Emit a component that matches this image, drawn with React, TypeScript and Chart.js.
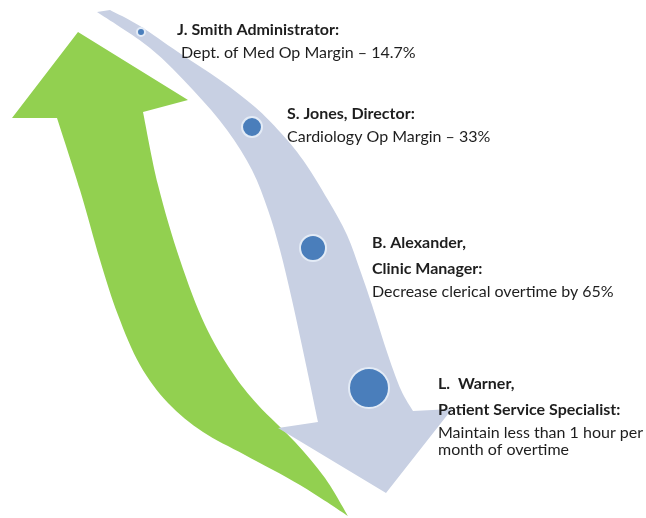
import React, { useEffect, useRef } from "react";
import { Chart, registerables } from "chart.js";

Chart.register(...registerables);

// ---- data ----
const names = ["J. Smith Administrator:", "S. Jones, Director:", "B. Alexander,", "L.  Warner,"];
const roles = ["", "", "Clinic Manager:", "Patient Service Specialist:"];
const goals = [
  ["Dept. of Med Op Margin – 14.7%"],
  ["Cardiology Op Margin – 33%"],
  ["Decrease clerical overtime by 65%"],
  ["Maintain less than 1 hour per", "month of overtime"],
];
const levelX = [141, 252, 313, 369];
const levelY = [32, 127, 248, 388];
const bubbleR = [4, 10, 13, 20];

// ---- layout (shape outlines & label anchors, in axis units) ----
const labelX = [177, 287, 372, 438];
const goalIndent = [4, 0, 0, 0];
const nameBase = [35, 119, 248, 389];
const roleGap = 26;
const goalGap = [23, 23, 23, 23];
const wrapGap = 17;

const greenHead: [number, number][] = [[12, 118], [78, 32], [188, 100]];
const greenRight: [number, number][] = [[143, 112], [158, 185], [180, 260], [205, 325], [232, 372], [258, 405], [295, 442], [325, 478], [348, 516]];
const greenLeft: [number, number][] = [[348, 516], [300, 485], [245, 455], [203, 432], [168, 403], [140, 365], [118, 315], [100, 260], [80, 190], [57, 118]];

const grayLeft: [number, number][] = [[97, 12], [150, 48], [193, 90], [227, 130], [252, 170], [268, 210], [280, 250], [292, 300], [305, 360], [318, 422]];
const grayHead: [number, number][] = [[278, 428], [386, 493], [452, 409]];
const grayRight: [number, number][] = [[413, 411], [401, 390], [388, 355], [372, 305], [360, 270], [347, 235], [328, 200], [303, 160], [280, 132], [255, 107], [220, 80], [178, 52], [140, 26], [110, 10]];

function smooth(ctx: CanvasRenderingContext2D, pts: [number, number][], first: boolean) {
  if (first) ctx.moveTo(pts[0][0], pts[0][1]);
  else ctx.lineTo(pts[0][0], pts[0][1]);
  for (let i = 0; i < pts.length - 1; i++) {
    const p0 = pts[Math.max(0, i - 1)];
    const p1 = pts[i];
    const p2 = pts[i + 1];
    const p3 = pts[Math.min(pts.length - 1, i + 2)];
    const t = 1 / 6;
    ctx.bezierCurveTo(
      p1[0] + (p2[0] - p0[0]) * t, p1[1] + (p2[1] - p0[1]) * t,
      p2[0] - (p3[0] - p1[0]) * t, p2[1] - (p3[1] - p1[1]) * t,
      p2[0], p2[1]
    );
  }
}

const arrowsPlugin = {
  id: "arrows",
  beforeDatasetsDraw(chart: any) {
    const { ctx, scales } = chart;
    const px = (p: [number, number]): [number, number] => [scales.x.getPixelForValue(p[0]), scales.y.getPixelForValue(p[1])];
    ctx.save();
    // green arrow
    ctx.beginPath();
    const gh = greenHead.map(px);
    ctx.moveTo(gh[0][0], gh[0][1]);
    gh.slice(1).forEach((p) => ctx.lineTo(p[0], p[1]));
    smooth(ctx, greenRight.map(px), false);
    smooth(ctx, greenLeft.map(px), false);
    ctx.closePath();
    ctx.fillStyle = "#92d050";
    ctx.fill();
    // gray arrow
    ctx.beginPath();
    smooth(ctx, grayLeft.map(px), true);
    grayHead.map(px).forEach((p) => ctx.lineTo(p[0], p[1]));
    smooth(ctx, grayRight.map(px), false);
    ctx.closePath();
    ctx.fillStyle = "#c8d0e3";
    ctx.fill();
    ctx.restore();
  },
  afterDatasetsDraw(chart: any) {
    const { ctx, scales } = chart;
    ctx.save();
    ctx.fillStyle = "#1e1e1e";
    ctx.textBaseline = "alphabetic";
    ctx.textAlign = "left";
    names.forEach((name, i) => {
      const x = scales.x.getPixelForValue(labelX[i]);
      let y = nameBase[i];
      ctx.font = "bold 16px Lato";
      ctx.fillText(name, x, scales.y.getPixelForValue(y));
      if (roles[i]) {
        y += roleGap;
        ctx.fillText(roles[i], x, scales.y.getPixelForValue(y));
      }
      ctx.font = "16px Lato";
      goals[i].forEach((g, j) => {
        y += j === 0 ? goalGap[i] : wrapGap;
        ctx.fillText(g, x + goalIndent[i], scales.y.getPixelForValue(y));
      });
    });
    ctx.restore();
  },
};

export default function App() {
  const ref = useRef<HTMLCanvasElement>(null);
  useEffect(() => {
    if (!ref.current) return;
    const chart = new Chart(ref.current, {
      type: "bubble",
      data: {
        datasets: [
          {
            data: levelX.map((x, i) => ({ x, y: levelY[i], r: bubbleR[i] })),
            backgroundColor: "#4a7ebb",
            borderColor: "#e3ebf6",
            borderWidth: 2,
            clip: false,
          },
        ],
      },
      options: {
        responsive: false,
        animation: false,
        devicePixelRatio: 1,
        layout: { padding: 0 },
        plugins: { legend: { display: false }, tooltip: { enabled: false } },
        scales: {
          x: { type: "linear", min: 0, max: 646, display: false },
          y: { type: "linear", min: 0, max: 518, reverse: true, display: false },
        },
      },
      plugins: [arrowsPlugin],
    });
    // let the plot area span the whole canvas (no extra room reserved for bubble radii)
    const meta: any = chart.getDatasetMeta(0);
    meta.controller.getMaxOverflow = () => 0;
    chart.update();
    return () => chart.destroy();
  }, []);
  return (
    <div style={{ position: "absolute", left: 0, top: 0, width: 646, height: 518, background: "#fff" }}>
      <canvas ref={ref} width={646} height={518} />
    </div>
  );
}
